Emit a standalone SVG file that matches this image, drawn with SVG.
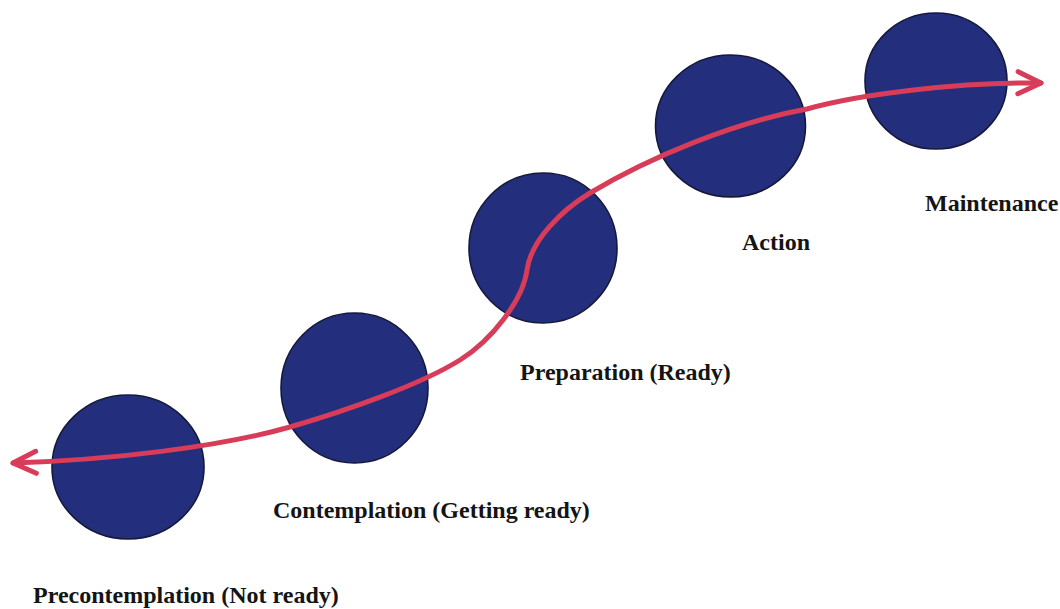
<svg xmlns="http://www.w3.org/2000/svg" width="1060" height="609" viewBox="0 0 1060 609">
  <style>
    .stage { fill: #232f7c; stroke: #15183a; stroke-width: 1.6; }
    .label { font-family: "Liberation Serif", "Times New Roman", serif; font-weight: bold; font-size: 24px; fill: #141414; }
    .path { fill: none; stroke: #d83c58; stroke-width: 5; stroke-linecap: round; stroke-linejoin: round; }
  </style>
  <defs>
    <marker id="chevron" viewBox="-30 -15 36 30" refX="0" refY="0" markerWidth="36" markerHeight="30" markerUnits="userSpaceOnUse" orient="auto-start-reverse">
      <path d="M -23 -11 L 0 0 L -23 11" fill="none" stroke="#d83c58" stroke-width="5" stroke-linecap="round" stroke-linejoin="round"/>
    </marker>
  </defs>
  <rect width="1060" height="609" fill="#ffffff"/>

  <g id="precontemplation">
    <ellipse class="stage" cx="128" cy="467" rx="76" ry="72"/>
    <text class="label" x="33" y="603">Precontemplation (Not ready)</text>
  </g>
  <g id="contemplation">
    <ellipse class="stage" cx="354.5" cy="388" rx="73.5" ry="75"/>
    <text class="label" x="273" y="518">Contemplation (Getting ready)</text>
  </g>
  <g id="preparation">
    <ellipse class="stage" cx="543" cy="248" rx="74" ry="75"/>
    <text class="label" x="520" y="380">Preparation (Ready)</text>
  </g>
  <g id="action">
    <ellipse class="stage" cx="730.5" cy="126" rx="75" ry="71"/>
    <text class="label" x="742" y="250">Action</text>
  </g>
  <g id="maintenance">
    <ellipse class="stage" cx="936" cy="81" rx="71" ry="68"/>
    <text class="label" x="925" y="211">Maintenance</text>
  </g>

  <g id="connectors">
    <path class="path" marker-start="url(#chevron)" marker-end="url(#chevron)"
      d="M 13 463 C 110 460 220 447 290 427 C 345 411 420 385 460 360 C 492 340 523 300 527 270 C 531 240 562 210 590 193 C 650 157 735 122 807 109 C 860 94 960 82 1041 83"/>
  </g>
</svg>
